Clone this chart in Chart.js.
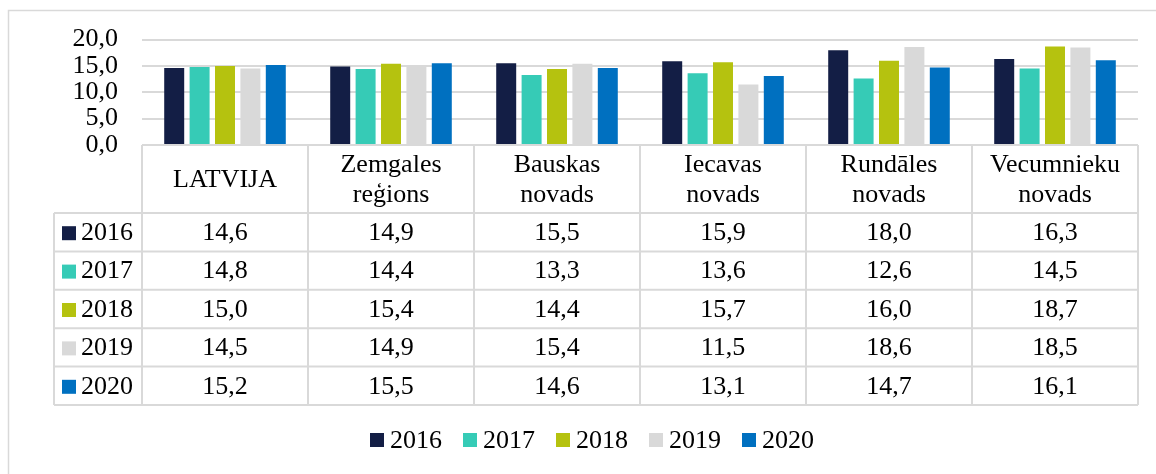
<!DOCTYPE html>
<html>
<head>
<meta charset="utf-8">
<script src="https://cdn.jsdelivr.net/npm/chart.js@4/dist/chart.umd.min.js"></script>
<style>
    body { margin: 0; background: #fff; }
    #chart { display: block; }
</style>
</head>
<body>
<canvas id="chart" width="1156" height="474"></canvas>
<script>
// categories (header lines), years, values per year
const categories = [
    ["LATVIJA"],
    ["Zemgales", "reģions"],
    ["Bauskas", "novads"],
    ["Iecavas", "novads"],
    ["Rundāles", "novads"],
    ["Vecumnieku", "novads"],
];
const years = ["2016", "2017", "2018", "2019", "2020"];
const v2016 = [14.6, 14.9, 15.5, 15.9, 18.0, 16.3];
const v2017 = [14.8, 14.4, 13.3, 13.6, 12.6, 14.5];
const v2018 = [15.0, 15.4, 14.4, 15.7, 16.0, 18.7];
const v2019 = [14.5, 14.9, 15.4, 11.5, 18.6, 18.5];
const v2020 = [15.2, 15.5, 14.6, 13.1, 14.7, 16.1];
const yTicks = [0, 5, 10, 15, 20];

const colors = ["#131E45", "#36CBB6", "#B5C20F", "#D9D9D9", "#0070C0"];
const series = [v2016, v2017, v2018, v2019, v2020];
const FAMILY = "'Liberation Serif'";
const FONT = "26px 'Liberation Serif'";
const LINE = "#d9d9d9";

function fmt(v) {
    return v.toFixed(1).replace(".", ",");
}

// draws outer frame, the data table under the bars and the legend
const tablePlugin = {
    id: "dataTable",
    beforeDraw(chart) {
        let ctx = chart.ctx;
        ctx.save();
        ctx.strokeStyle = LINE;
        ctx.lineWidth = 1.5;
        ctx.strokeRect(8.5, 10.5, 1300, 600);
        ctx.restore();
    },
    afterDraw(chart) {
        let ctx = chart.ctx;
        let x = chart.scales.x;
        let area = chart.chartArea;
        let n = categories.length;
        let top = area.bottom;
        let headH = 68;
        let rowH = 38.4;
        let labelLeft = 54;
        let bottom = top + headH + rowH * years.length;
        let edges = [];
        for (let i = 0; i <= n; i++) edges.push(x.getPixelForValue(i - 0.5));

        ctx.save();
        ctx.strokeStyle = LINE;
        ctx.lineWidth = 2;
        ctx.beginPath();
        ctx.moveTo(edges[0], top);
        ctx.lineTo(edges[n], top);
        for (let r = 0; r <= years.length; r++) {
            let y = top + headH + r * rowH;
            ctx.moveTo(labelLeft, y);
            ctx.lineTo(edges[n], y);
        }
        for (let i = 0; i <= n; i++) {
            ctx.moveTo(edges[i], top);
            ctx.lineTo(edges[i], bottom);
        }
        ctx.moveTo(labelLeft, top + headH);
        ctx.lineTo(labelLeft, bottom);
        ctx.stroke();

        ctx.fillStyle = "#000";
        ctx.font = FONT;
        ctx.textAlign = "center";
        ctx.textBaseline = "middle";
        categories.forEach((lines, i) => {
            let cx = x.getPixelForValue(i);
            let cy = top + headH / 2 + 1;
            let lh = 30;
            let start = cy - (lines.length - 1) * lh / 2;
            lines.forEach((t, k) => ctx.fillText(t, cx, start + k * lh));
        });
        years.forEach((yr, r) => {
            let cy = top + headH + r * rowH + rowH / 2 + 1;
            ctx.fillStyle = colors[r];
            ctx.fillRect(62, cy - 7, 14, 14);
            ctx.fillStyle = "#000";
            ctx.textAlign = "left";
            ctx.fillText(yr, 81, cy);
            ctx.textAlign = "center";
            series[r].forEach((v, i) => {
                ctx.fillText(fmt(v), x.getPixelForValue(i), cy);
            });
        });

        // legend
        let widths = years.map((yr) => ctx.measureText(yr).width);
        let total = widths.reduce((a, b) => a + b, 0) + years.length * 20 + (years.length - 1) * 21;
        let lx = 592 - total / 2;
        let ly = 440;
        ctx.textAlign = "left";
        years.forEach((yr, r) => {
            ctx.fillStyle = colors[r];
            ctx.fillRect(lx, ly - 7, 14, 14);
            ctx.fillStyle = "#000";
            ctx.fillText(yr, lx + 20, ly + 1);
            lx += 20 + widths[r] + 21;
        });
        ctx.restore();
    },
};

function createChart(name) {
    let ctx = document.getElementById(name).getContext("2d");
    return new Chart(ctx, {
        type: "bar",
        data: {
            labels: categories.map((c) => c.join(" ")),
            datasets: years.map((yr, i) => ({
                label: yr,
                data: series[i],
                backgroundColor: colors[i],
                borderWidth: 0,
                categoryPercentage: 0.765,
                barPercentage: 0.787,
            })),
        },
        options: {
            responsive: false,
            animation: false,
            devicePixelRatio: 1,
            layout: {
                padding: { left: 0, right: 18, top: 38, bottom: 329 },
            },
            plugins: {
                legend: { display: false },
                tooltip: { enabled: false },
            },
            scales: {
                x: {
                    ticks: { display: false },
                    grid: { display: false },
                    border: { display: false },
                    afterFit: (s) => { s.height = 0; },
                },
                y: {
                    min: 0,
                    max: 20,
                    afterBuildTicks: (s) => { s.ticks = yTicks.map((v) => ({ value: v })); },
                    ticks: {
                        autoSkip: false,
                        padding: 24,
                        color: "#000",
                        font: { family: FAMILY, size: 26 },
                        callback: (v) => fmt(v),
                    },
                    grid: { color: LINE, lineWidth: 2, drawTicks: false },
                    border: { display: false },
                    afterFit: (s) => { s.width = 142; },
                },
            },
        },
        plugins: [tablePlugin],
    });
}

Chart.defaults.font.family = FAMILY;
createChart("chart");
</script>
</body>
</html>
